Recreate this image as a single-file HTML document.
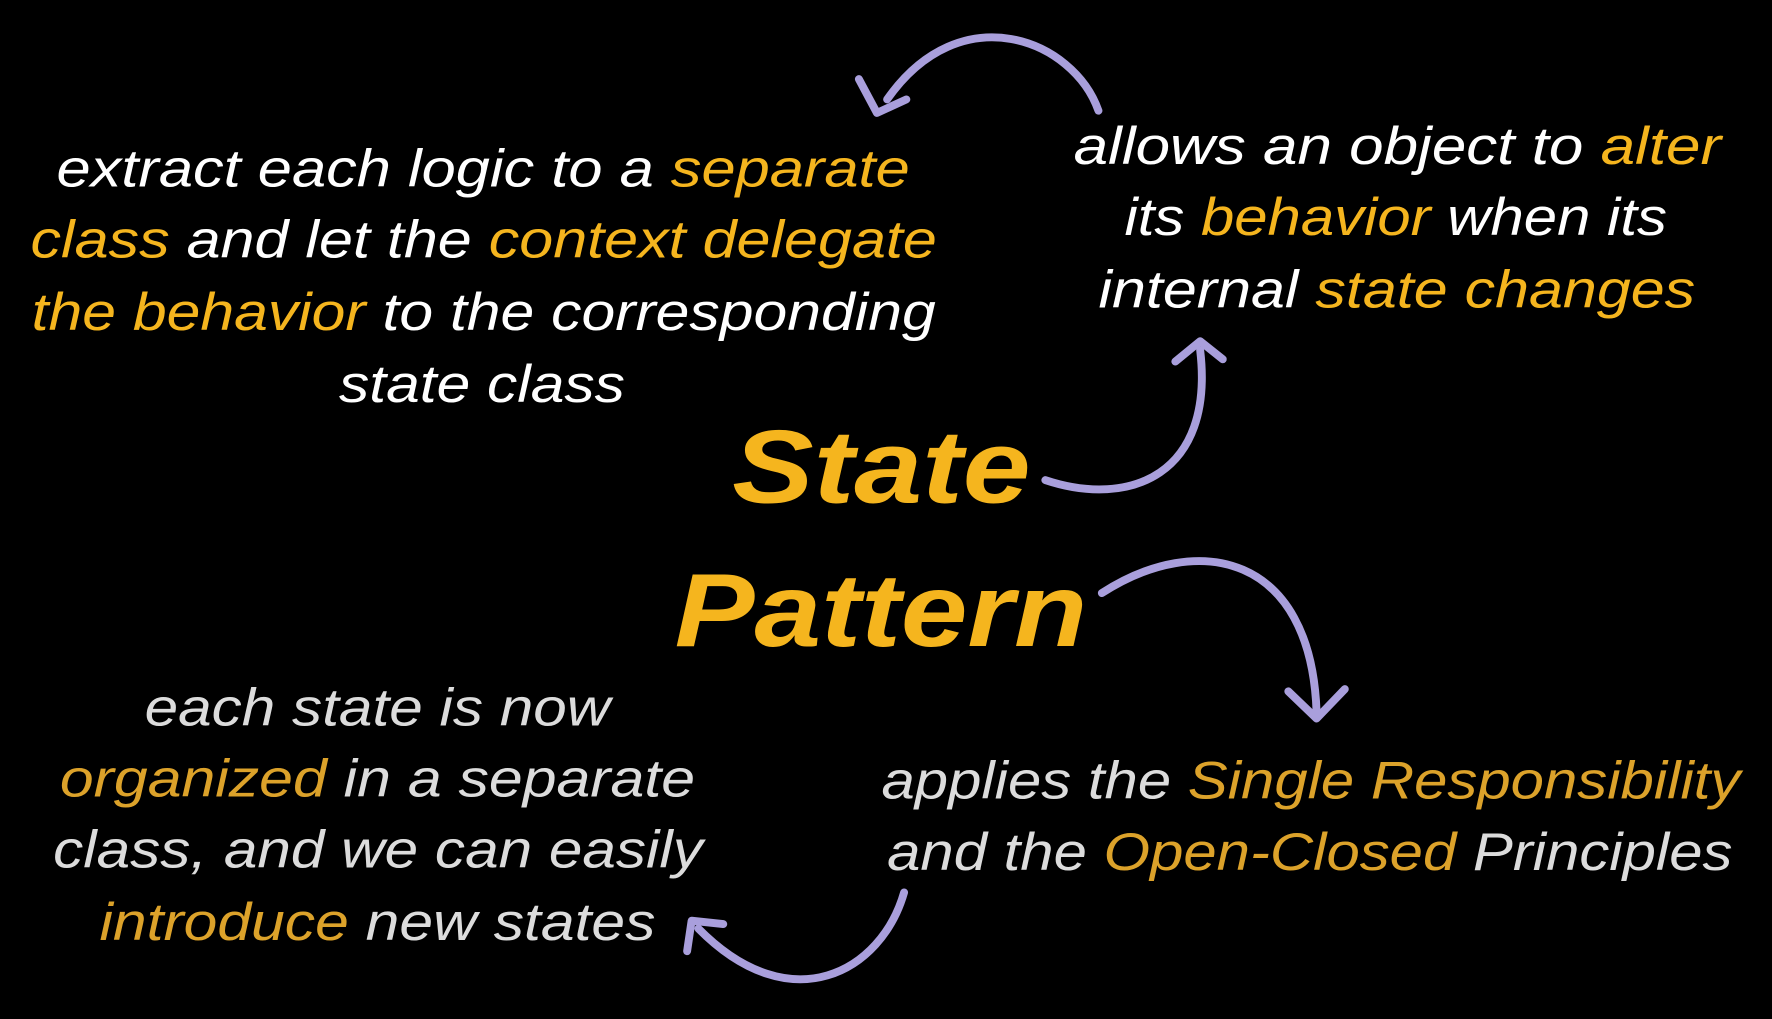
<!DOCTYPE html>
<html><head><meta charset="utf-8"><style>
html,body{margin:0;padding:0;background:#000;}
svg{display:block;}
text{font-family:"Liberation Sans",sans-serif;}
.t{font-style:italic;font-size:47px;fill:#fff;}
.o{fill:#f5b51e;}
.g{fill:#dcdcdc;}
.o2{fill:#dca22a;}
</style></head><body>
<svg width="1772" height="1019" viewBox="0 0 1568 902" preserveAspectRatio="none" xmlns="http://www.w3.org/2000/svg">
<rect width="1568" height="902" fill="#000"/>
<g fill="none" stroke="#a99fdc" stroke-width="7" stroke-linecap="round" stroke-linejoin="round">
<path d="M972,98 C950,35 850,-5 785,88"/>
<path d="M760,70 L776,100 L802,88"/>
<path d="M925,425 C1000,450 1075,420 1062,310"/>
<path d="M1040,320 L1062,302 L1082,318"/>
<path d="M975,525 C1060,470 1160,490 1165,630"/>
<path d="M1140,612 L1165,636 L1190,610"/>
<path d="M800,790 C780,860 700,905 618,822"/>
<path d="M608,842 L612,815 L640,818"/>
</g>
<g class="t">
<text x="50" y="165" textLength="755" lengthAdjust="spacingAndGlyphs">extract each logic to a <tspan class="o">separate</tspan></text>
<text x="27" y="228" textLength="802" lengthAdjust="spacingAndGlyphs"><tspan class="o">class</tspan> and let the <tspan class="o">context delegate</tspan></text>
<text x="28" y="292" textLength="800" lengthAdjust="spacingAndGlyphs"><tspan class="o">the behavior</tspan> to the corresponding</text>
<text x="300" y="356" textLength="253" lengthAdjust="spacingAndGlyphs">state class</text>
<text x="950" y="145" textLength="573" lengthAdjust="spacingAndGlyphs">allows an object to <tspan class="o">alter</tspan></text>
<text x="995" y="208" textLength="480" lengthAdjust="spacingAndGlyphs">its <tspan class="o">behavior</tspan> when its</text>
<text x="972" y="272" textLength="528" lengthAdjust="spacingAndGlyphs">internal <tspan class="o">state changes</tspan></text>
<text x="128" y="642" textLength="412" lengthAdjust="spacingAndGlyphs" class="g">each state is now</text>
<text x="53" y="705" textLength="562" lengthAdjust="spacingAndGlyphs" class="g"><tspan class="o2">organized</tspan> in a separate</text>
<text x="47" y="768" textLength="575" lengthAdjust="spacingAndGlyphs" class="g">class, and we can easily</text>
<text x="88" y="832" textLength="492" lengthAdjust="spacingAndGlyphs" class="g"><tspan class="o2">introduce</tspan> new states</text>
<text x="780" y="707" textLength="760" lengthAdjust="spacingAndGlyphs" class="g">applies the <tspan class="o2">Single Responsibility</tspan></text>
<text x="785" y="770" textLength="748" lengthAdjust="spacingAndGlyphs" class="g">and the <tspan class="o2">Open-Closed</tspan> Principles</text>
</g>
<text x="648" y="445" textLength="264" lengthAdjust="spacingAndGlyphs" style="font-style:italic;font-weight:bold;font-size:92px;fill:#f5b51e">State</text>
<text x="597" y="572" textLength="365" lengthAdjust="spacingAndGlyphs" style="font-style:italic;font-weight:bold;font-size:92px;fill:#f5b51e">Pattern</text>
</svg>
</body></html>
